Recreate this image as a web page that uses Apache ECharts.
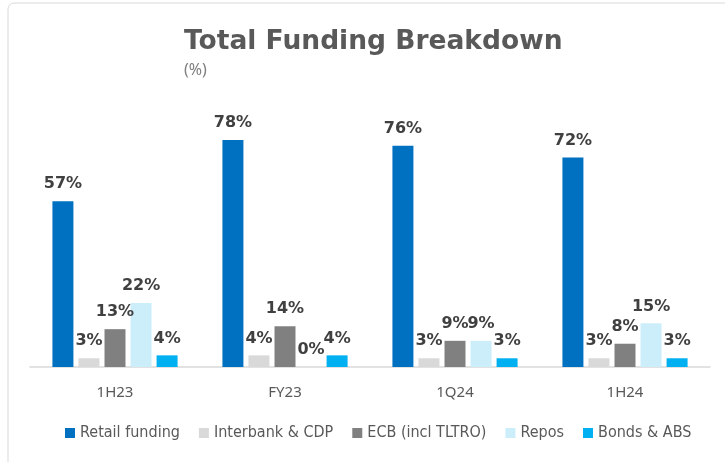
<!DOCTYPE html>
<html><head><meta charset="utf-8">
<script src="https://cdn.jsdelivr.net/npm/echarts@6/dist/echarts.min.js"></script>
<style>html,body{margin:0;padding:0;background:#fff}#c{width:725px;height:462px}</style>
</head><body><div id="c"></div>
<script>
const categories = ['1H23', 'FY23', '1Q24', '1H24'];
const seriesNames = ['Retail funding', 'Interbank & CDP', 'ECB (incl TLTRO)', 'Repos', 'Bonds & ABS'];
const retailFunding = [57, 78, 76, 72];
const interbankCdp = [3, 4, 3, 3];
const ecb = [13, 14, 9, 8];
const repos = [22, 0, 9, 15];
const bondsAbs = [4, 4, 3, 3];
const colors = ['#0070C0', '#D9D9D9', '#808080', '#CCEEFB', '#00B0F0'];
const values = [retailFunding, interbankCdp, ecb, repos, bondsAbs];

const chart = echarts.init(document.getElementById('c'));
chart.setOption({
  animation: false,
  graphic: [{
    type: 'rect', shape: { x: 8, y: 3, width: 740, height: 480, r: 6 },
    style: { fill: 'none', stroke: '#D9D9D9', lineWidth: 1 }, z: -1
  }],
  title: {
    text: 'Total Funding Breakdown', subtext: '(%)',
    left: 179, top: 24,
    textStyle: { fontFamily: 'DejaVu Sans', fontWeight: 'bold', fontSize: 26.5, color: '#595959' },
    subtextStyle: { fontFamily: 'Noto Sans', fontSize: 16, color: '#7F7F7F' },
    itemGap: 6
  },
  legend: {
    bottom: 16, left: 60,
    itemWidth: 10, itemHeight: 10, itemGap: 19,
    icon: 'rect',
    textStyle: { fontFamily: 'Liberation Sans Narrow, DejaVu Sans Condensed, sans-serif', fontSize: 16, color: '#595959' },
    data: seriesNames
  },
  grid: { left: 30, right: 15, top: 76, bottom: 95 },
  xAxis: {
    type: 'category', data: categories,
    axisLine: { lineStyle: { color: '#D9D9D9', width: 1.5 } },
    axisTick: { show: false },
    axisLabel: { fontFamily: 'Noto Sans', fontSize: 15, color: '#595959', margin: 18 }
  },
  yAxis: { type: 'value', min: 0, max: 100, show: false, splitLine: { show: false } },
  series: seriesNames.map((n, i) => ({
    name: n, type: 'bar', data: values[i],
    barWidth: 21, barGap: '24%',
    itemStyle: { color: colors[i] },
    label: {
      show: true, position: 'top', distance: 9,
      formatter: '{c}%',
      fontFamily: 'DejaVu Sans', fontWeight: 'bold', fontSize: 16, color: '#404040'
    }
  }))
});
</script></body></html>
